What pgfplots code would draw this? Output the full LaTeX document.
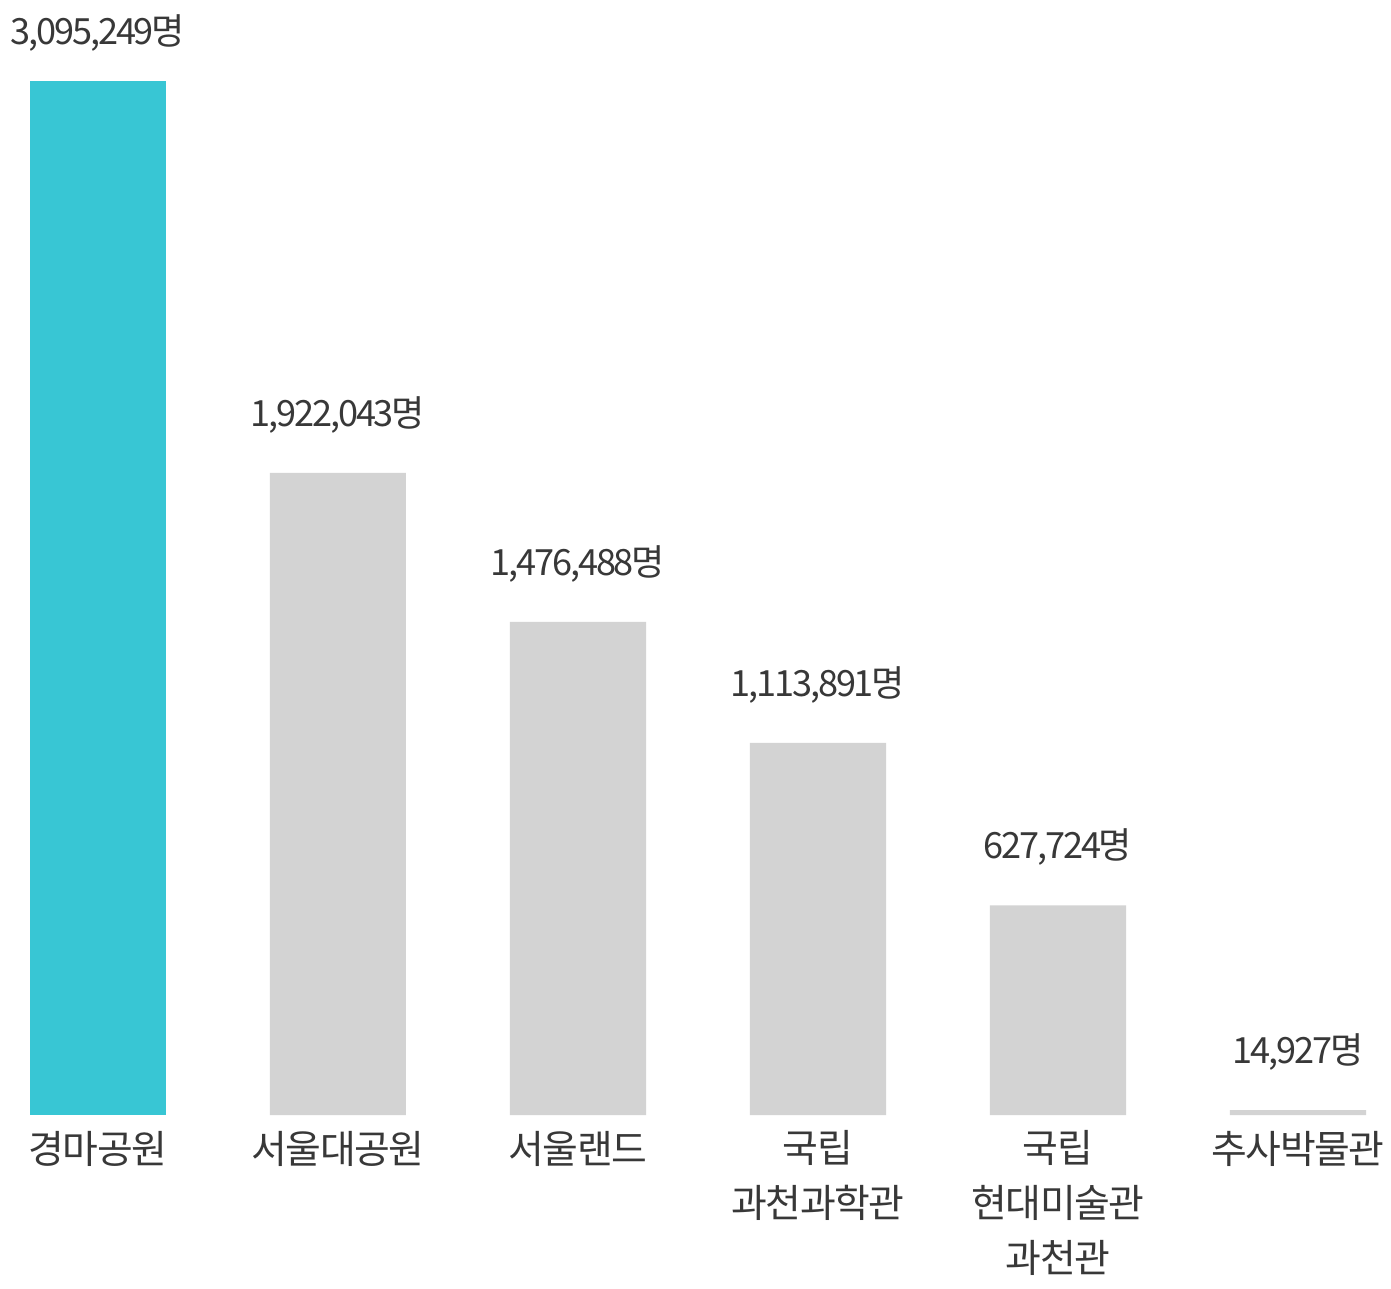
\documentclass[border=0pt]{standalone}
\usepackage{fontspec}
\usepackage{pgfplots}
\pgfplotsset{compat=1.18}
\newfontfamily\kr{Noto Sans CJK KR}[LetterSpace=-4]
\newfontfamily\krn{Noto Sans CJK KR}[LetterSpace=-6]
\definecolor{teal}{HTML}{38C6D4}
\definecolor{lgray}{HTML}{D3D3D3}
\definecolor{txt}{HTML}{383838}

\begin{document}
\begin{tikzpicture}
\begin{axis}[
  scale only axis, width=500.76pt, height=401.4pt,
  xmin=-0.408, xmax=5.3875, ymin=0, ymax=3337710,
  axis line style={draw=none}, clip=false,
  hide y axis,
  ybar, bar width=49pt, bar shift=0pt,
  xtick={0,...,5}, major tick length=0pt,
  xticklabels={경마공원,서울대공원,서울랜드,{국립\\과천과학관},{국립\\현대미술관\\과천관},추사박물관},
  xticklabel style={font=\kr\fontsize{14}{19.8}\selectfont, text=txt, align=center, anchor=north, inner sep=0pt, yshift=-5.5pt},
  point meta=explicit symbolic,
  nodes near coords,
  nodes near coords style={font=\krn\fontsize{13}{15}\selectfont, text=txt, anchor=south, inner sep=0pt, yshift=14pt},
]
% 1위: 강조색, 라벨을 막대에 조금 더 가깝게
\addplot[fill=teal, draw=none,
  every node near coord/.append style={yshift=-3.5pt}]
  coordinates {(0,3095249) [3,095,249명]};
\addplot[fill=lgray, draw=none] coordinates {
  (1,1922043) [1,922,043명]
  (2,1476488) [1,476,488명]
  (3,1113891) [1,113,891명]
  (4,627724) [627,724명]
  (5,14927) [14,927명]
};
\coordinate (sw) at (rel axis cs:0,0);
\coordinate (ne) at (rel axis cs:1,1);
\end{axis}
\pgfresetboundingbox
\useasboundingbox ([yshift=-62.28pt]sw) rectangle (ne);
\end{tikzpicture}
\end{document}
